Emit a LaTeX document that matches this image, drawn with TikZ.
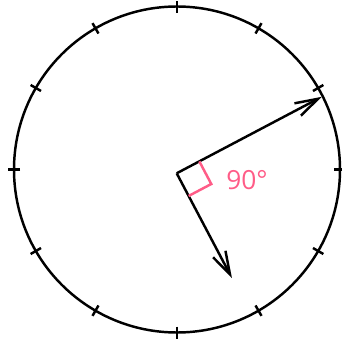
\documentclass[tikz,border=0pt]{standalone}
\usepackage{fontspec}
\setsansfont{Open Sans}
\usetikzlibrary{arrows.meta, calc}
\definecolor{anglepink}{RGB}{255,92,135}

\begin{document}
\begin{tikzpicture}[x=0.02cm, y=0.02cm, line width=1.4pt, >={Straight Barb[length=4.6mm, width=2.8mm]}]
    \useasboundingbox (0,0) rectangle (342,339);
    \coordinate (C) at (177,169.5);
    \coordinate (O) at (176.7,165.7);
    \draw (C) circle [radius=163];
    \foreach \a in {0,30,...,330}
        \draw ($(C)+(\a:157)$) -- ($(C)+(\a:169)$);
    \coordinate (A) at ($(O)+(27.8:164)$);
    \coordinate (B) at ($(O)+(-62.2:118.5)$);
    \draw[->] (O) -- (A);
    \draw[->] (O) -- (B);
    \draw[anglepink] ($(O)+(27.8:25.6)$) -- ++(-62.2:25.6) -- ($(O)+(-62.2:25.6)$);
    \node[anglepink, font=\sffamily\fontsize{15}{18}\selectfont] (lbl) at (247,159) {90°};
\end{tikzpicture}
\end{document}
